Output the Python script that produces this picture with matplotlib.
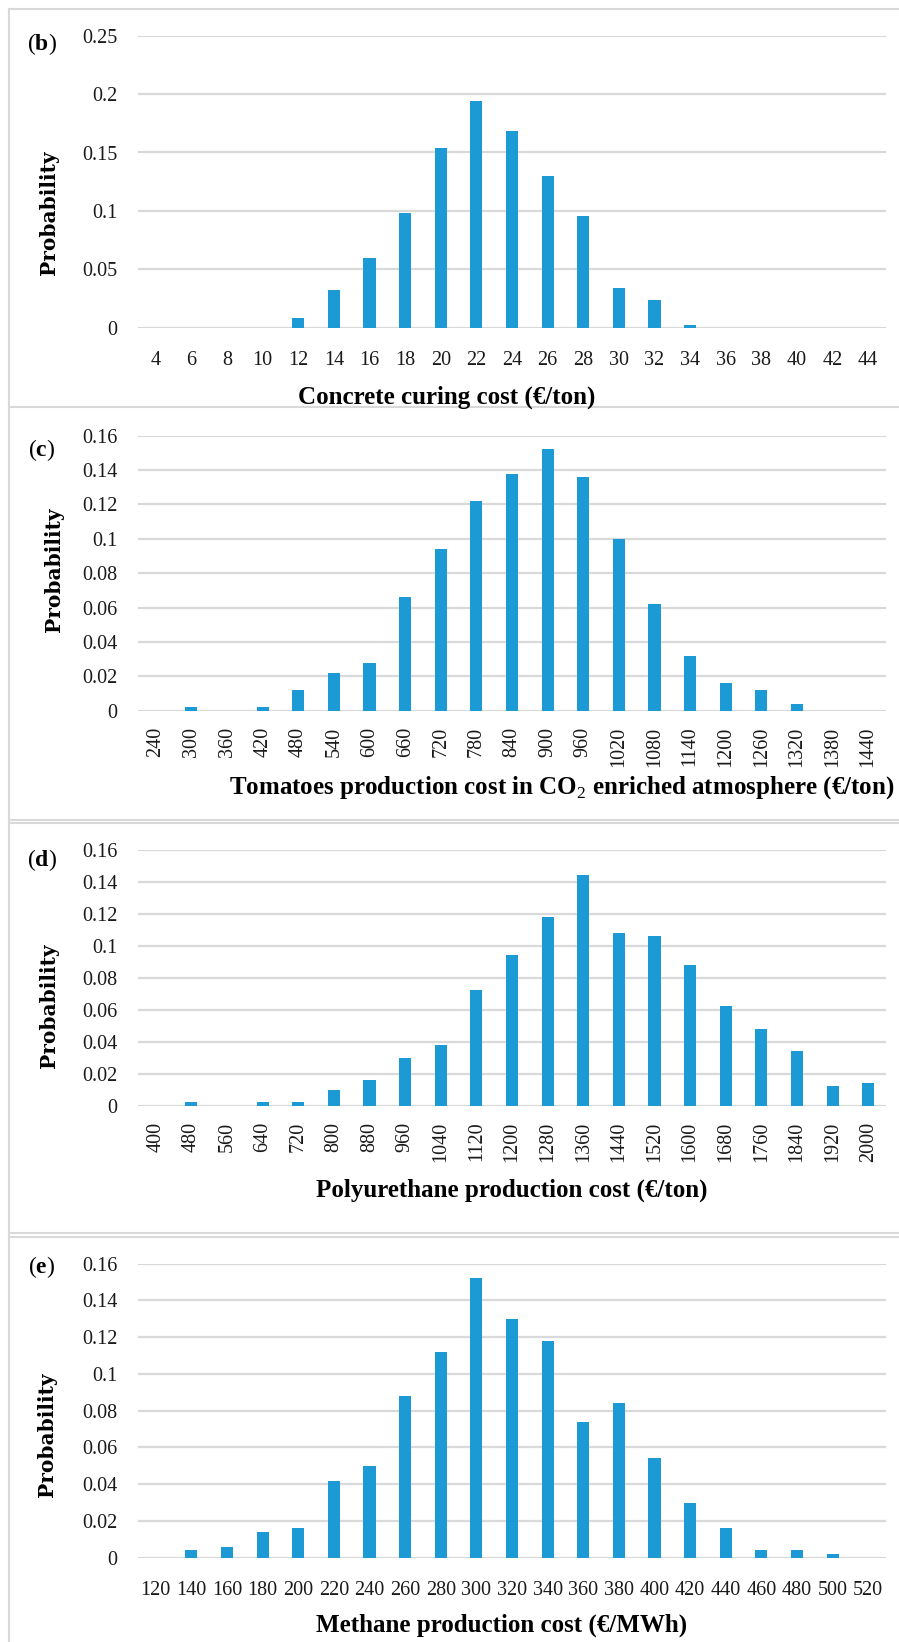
import matplotlib
matplotlib.use("Agg")
import matplotlib.pyplot as plt
from matplotlib.lines import Line2D

plt.rcParams['font.family'] = ['Liberation Serif', 'DejaVu Serif']
plt.rcParams['mathtext.fontset'] = 'custom'
plt.rcParams['mathtext.rm'] = 'Liberation Serif'
plt.rcParams['mathtext.bf'] = 'Liberation Serif:bold'

# (b) concrete curing cost
concrete_cost = [4, 6, 8, 10, 12, 14, 16, 18, 20, 22, 24, 26, 28, 30, 32, 34, 36, 38, 40, 42, 44]
concrete_prob = [0, 0, 0, 0, 0.008, 0.032, 0.060, 0.098, 0.154, 0.194, 0.168,
                 0.130, 0.096, 0.034, 0.024, 0.002, 0, 0, 0, 0, 0]

# (c) tomatoes in CO2 enriched atmosphere
tomato_cost = [240, 300, 360, 420, 480, 540, 600, 660, 720, 780, 840, 900, 960,
               1020, 1080, 1140, 1200, 1260, 1320, 1380, 1440]
tomato_prob = [0, 0.002, 0, 0.002, 0.012, 0.022, 0.028, 0.066, 0.094, 0.122, 0.138,
               0.152, 0.136, 0.100, 0.062, 0.032, 0.016, 0.012, 0.004, 0, 0]

# (d) polyurethane
pu_cost = [400, 480, 560, 640, 720, 800, 880, 960, 1040, 1120, 1200, 1280, 1360,
           1440, 1520, 1600, 1680, 1760, 1840, 1920, 2000]
pu_prob = [0, 0.002, 0, 0.002, 0.002, 0.010, 0.016, 0.030, 0.038, 0.072, 0.094,
           0.118, 0.144, 0.108, 0.106, 0.088, 0.062, 0.048, 0.034, 0.012, 0.014]

# (e) methane
methane_cost = [120, 140, 160, 180, 200, 220, 240, 260, 280, 300, 320, 340, 360,
                380, 400, 420, 440, 460, 480, 500, 520]
methane_prob = [0, 0.004, 0.006, 0.014, 0.016, 0.042, 0.050, 0.088, 0.112, 0.152,
                0.130, 0.118, 0.074, 0.084, 0.054, 0.030, 0.016, 0.004, 0.004, 0.002, 0]

BAR = '#1B9AD6'
GRID = '#D9D9D9'
W, H = 899, 1642

fig = plt.figure(figsize=(W / 100, H / 100), dpi=100)


def fx(px):
    return px / W


def fy(py):
    return 1 - py / H


panels = [
    # letter, costs, probs, ymax, step, y of top gridline, y of zero line, rotate,
    # xlabel, xlabel pos, letter y, ylabel pos
    ('b', concrete_cost, concrete_prob, 0.25, 0.05, 35.7, 327.7, False,
     'Concrete curing cost (€/ton)', (447, 397, 'center'), 44, (49, 213)),
    ('c', tomato_cost, tomato_prob, 0.16, 0.02, 435.7, 710.7, True,
     'Tomatoes production cost in CO$_2$ enriched atmosphere (€/ton)', (229, 788, 'left'), 450, (54, 570)),
    ('d', pu_cost, pu_prob, 0.16, 0.02, 849.7, 1105.7, True,
     'Polyurethane production cost (€/ton)', (512, 1190, 'center'), 860, (49, 1006)),
    ('e', methane_cost, methane_prob, 0.16, 0.02, 1263.7, 1557.7, False,
     'Methane production cost (€/MWh)', (502, 1625, 'center'), 1267, (47, 1435)),
]

for letter, costs, probs, ymax, step, ytop, yzero, rotate, xlabel, xl, ly, yl in panels:
    ax = fig.add_axes([fx(138), fy(yzero), fx(886 - 138), (yzero - ytop) / H])
    x = range(len(costs))
    ax.bar(x, probs, width=0.34, color=BAR, zorder=3)
    ax.set_xlim(-0.5, len(costs) - 0.5)
    ax.set_ylim(0, ymax)

    n = int(round(ymax / step))
    yt = [round(i * step, 4) for i in range(n + 1)]
    ax.set_yticks(yt)
    ax.set_yticklabels([f'{v:g}' for v in yt])
    ax.set_xticks(list(x))
    if rotate:
        ax.set_xticklabels([str(c) for c in costs], rotation=90)
        ax.tick_params(axis='x', pad=11.5)
    else:
        ax.set_xticklabels([str(c) for c in costs])
        ax.tick_params(axis='x', pad=17)
    ax.tick_params(axis='y', pad=15)
    ax.tick_params(length=0, labelsize=14.5, labelcolor='#1a1a1a')

    for s in ax.spines.values():
        s.set_visible(False)
    ax.yaxis.grid(True, color=GRID, lw=1.6, zorder=0)
    ax.set_axisbelow(True)

    fig.text(fx(xl[0]), fy(xl[1]), xlabel, ha=xl[2], va='center',
             fontsize=18, fontweight='bold')
    fig.text(fx(yl[0]), fy(yl[1]), 'Probability', rotation=90, ha='center', va='center',
             fontsize=14.5, fontweight='bold', family='DejaVu Serif')
    fig.text(fx(42), fy(ly), '($\\mathbf{' + letter + '}$)', ha='center', va='center',
             fontsize=17)

# light frames around each panel
for yy in [9.5, 407, 820, 823, 1233, 1237]:
    fig.add_artist(Line2D([fx(8.5), 1], [fy(yy), fy(yy)], transform=fig.transFigure,
                          color=GRID, lw=1.5))
fig.add_artist(Line2D([fx(8.5), fx(8.5)], [fy(9.5), 0], transform=fig.transFigure,
                      color=GRID, lw=1.5))

fig.savefig('out.png', dpi=100)
